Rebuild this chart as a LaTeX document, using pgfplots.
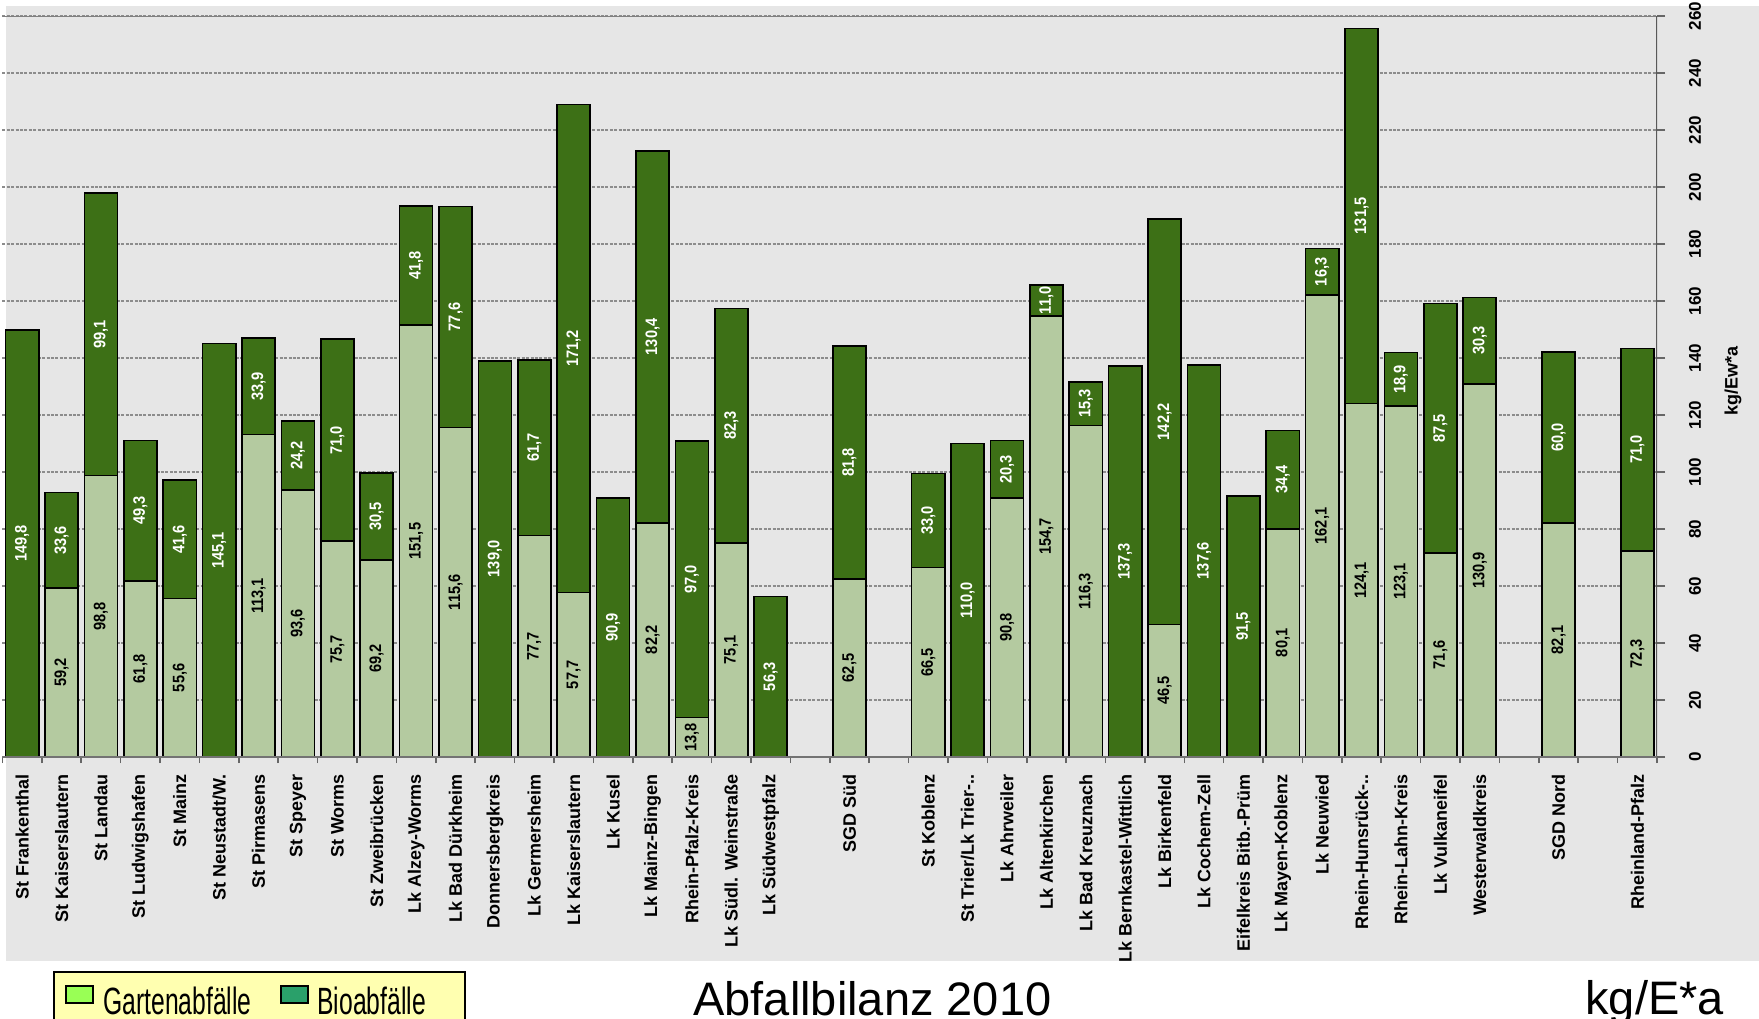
\documentclass[border=0pt]{standalone}
\usepackage{pgfplots}
\pgfplotsset{compat=1.18}
\usepackage{pgfplotstable}
\usepackage{fontspec}
\setmainfont{Liberation Sans}

\definecolor{darkg}{RGB}{61,112,22}
\definecolor{lightg}{RGB}{180,202,160}
\definecolor{bggray}{RGB}{230,230,230}
\definecolor{legy}{RGB}{255,255,176}
\definecolor{legga}{RGB}{153,255,85}
\definecolor{leggb}{RGB}{42,160,106}

\pgfplotstableread{
x g b
0 0 149.8
1 59.2 33.6
2 98.8 99.1
3 61.8 49.3
4 55.6 41.6
5 0 145.1
6 113.1 33.9
7 93.6 24.2
8 75.7 71.0
9 69.2 30.5
10 151.5 41.8
11 115.6 77.6
12 0 139.0
13 77.7 61.7
14 57.7 171.2
15 0 90.9
16 82.2 130.4
17 13.8 97.0
18 75.1 82.3
19 0 56.3
21 62.5 81.8
23 66.5 33.0
24 0 110.0
25 90.8 20.3
26 154.7 11.0
27 116.3 15.3
28 0 137.3
29 46.5 142.2
30 0 137.6
31 0 91.5
32 80.1 34.4
33 162.1 16.3
34 124.1 131.5
35 123.1 18.9
36 71.6 87.5
37 130.9 30.3
39 82.1 60.0
41 72.3 71.0
}\datatable

\begin{document}
\begin{tikzpicture}
\useasboundingbox (0,0) rectangle (879.5pt,-509pt);
\fill[white] (0,0) rectangle (879.5pt,-509pt);
\fill[bggray] (3pt,-3pt) rectangle (879.5pt,-480.5pt);
\begin{axis}[
  at={(1.25pt,-8pt)}, anchor=north west,
  scale only axis, width=827.25pt, height=370.5pt,
  xmin=-0.5, xmax=41.5, ymin=0, ymax=260,
  enlargelimits=false,
  axis line style={draw=none},
  xtick={0,...,41},
  xticklabels={{St Frankenthal},{St Kaiserslautern},{St Landau},{St Ludwigshafen},{St Mainz},{St Neustadt/W.},{St Pirmasens},{St Speyer},{St Worms},{St Zweibrücken},{Lk Alzey-Worms},{Lk Bad Dürkheim},{Donnersbergkreis},{Lk Germersheim},{Lk Kaiserslautern},{Lk Kusel},{Lk Mainz-Bingen},{Rhein-Pfalz-Kreis},{Lk Südl. Weinstraße},{Lk Südwestpfalz},{},{SGD Süd},{},{St Koblenz},{St Trier/Lk Trier-..},{Lk Ahrweiler},{Lk Altenkirchen},{Lk Bad Kreuznach},{Lk Bernkastel-Wittlich},{Lk Birkenfeld},{Lk Cochem-Zell},{Eifelkreis Bitb.-Prüm},{Lk Mayen-Koblenz},{Lk Neuwied},{Rhein-Hunsrück-..},{Rhein-Lahn-Kreis},{Lk Vulkaneifel},{Westerwaldkreis},{},{SGD Nord},{},{Rheinland-Pfalz}},
  minor xtick={-0.5,0.5,...,41.5},
  major x tick style={draw=none},
  minor x tick style={draw=black!60, line width=0.8pt},
  xtick pos=bottom, ytick pos=right, yticklabel pos=right,
  tick align=outside,
  minor tick length=3pt, major tick length=4pt,
  ytick={0,20,...,260},
  y tick style={draw=black!60, line width=0.8pt},
  ymajorgrids,
  major grid style={draw=black!45, dash pattern=on 1.5pt off 0.7pt, line width=0.6pt},
  xticklabel style={rotate=90, anchor=east, font=\bfseries\fontsize{9}{10}\selectfont},
  yticklabel style={rotate=90, anchor=center, font=\bfseries\fontsize{8.5}{10}\selectfont},
  /pgf/number format/assume math mode=true,
  xticklabel shift=1pt, yticklabel shift=15pt,
]
\addplot[ybar, bar shift=0pt, bar width=0.84, fill=darkg, draw=black, line width=0.8pt]
  table[x=x, y expr=\thisrow{g}+\thisrow{b}] {\datatable};
\addplot[ybar, bar shift=0pt, bar width=0.84, fill=lightg, draw=black, line width=0.8pt]
  table[x=x, y=g] {\datatable};
\addplot[draw=none, mark=none, point meta=\thisrow{b},
  nodes near coords={\scalebox{0.88}[1]{\pgfmathprintnumber[fixed,fixed zerofill,precision=1,use comma,assume math mode=true]{\pgfplotspointmeta}}},
  every node near coord/.append style={rotate=90, anchor=center, text=white, font=\bfseries\fontsize{8.3}{10}\selectfont, inner sep=0pt}]
  table[x=x, y expr=\thisrow{g}+\thisrow{b}/2] {\datatable};
\addplot[draw=none, mark=none, point meta=\thisrow{g}, restrict y to domain=0.1:300,
  nodes near coords={\scalebox{0.88}[1]{\pgfmathprintnumber[fixed,fixed zerofill,precision=1,use comma,assume math mode=true]{\pgfplotspointmeta}}},
  every node near coord/.append style={rotate=90, anchor=center, text=black, font=\bfseries\fontsize{8.3}{10}\selectfont, inner sep=0pt}]
  table[x=x, y expr=\thisrow{g}/2] {\datatable};
\draw[black!50, line width=0.8pt] (rel axis cs:0,1) -- (rel axis cs:1,1);
\draw[black!65, line width=1pt] (rel axis cs:1,0) -- (rel axis cs:1,1);
\draw[black!55, line width=0.8pt] (rel axis cs:0,0) -- (rel axis cs:1,0);
\end{axis}
\node[rotate=90, font=\bfseries\fontsize{9}{10}\selectfont] at (866.5pt,-190.5pt) {kg/Ew*a};
\fill[white] (0,-480.5pt) rectangle (879.5pt,-509pt);
\draw[fill=legy, line width=1pt] (27pt,-486pt) rectangle (232.5pt,-515pt);
\draw[fill=legga, line width=0.9pt] (33pt,-493pt) rectangle (46.5pt,-501.5pt);
\node[anchor=base west, inner sep=0pt, font=\fontsize{19}{20}\selectfont] at (51.5pt,-507pt) {\scalebox{0.65}[1]{Gartenabfälle}};
\draw[fill=leggb, line width=0.9pt] (140.5pt,-493pt) rectangle (154pt,-501.5pt);
\node[anchor=base west, inner sep=0pt, font=\fontsize{19}{20}\selectfont] at (158.5pt,-507pt) {\scalebox{0.65}[1]{Bioabfälle}};
\node[anchor=base west, inner sep=0pt, font=\fontsize{23.5}{26}\selectfont] at (346.5pt,-507.5pt) {Abfallbilanz 2010};
\node[anchor=base west, inner sep=0pt, font=\fontsize{23.5}{26}\selectfont] at (792.5pt,-507pt) {kg/E*a};
\end{tikzpicture}
\end{document}
